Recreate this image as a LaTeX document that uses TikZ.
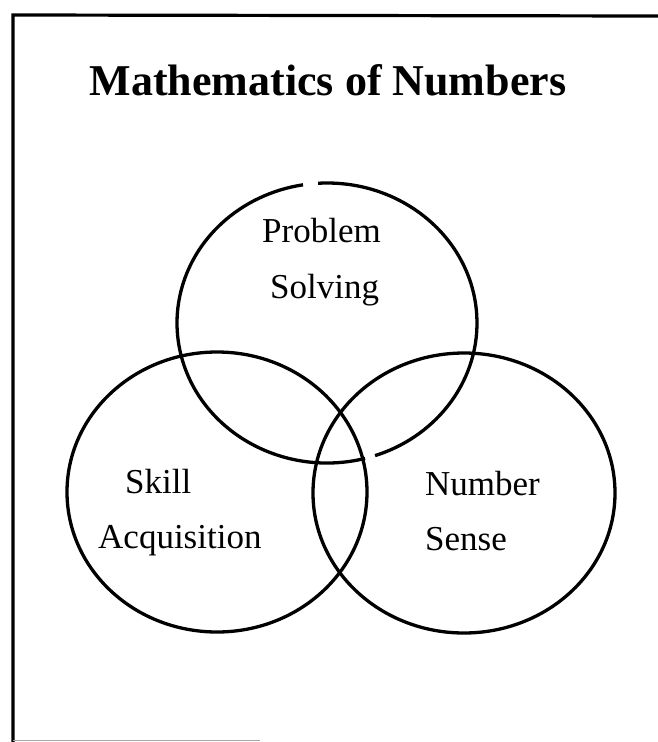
\documentclass[tikz,border=0pt]{standalone}
\usepackage{fontspec}
\setmainfont{Liberation Serif}
\begin{document}
\begin{tikzpicture}[x=1pt,y=-1pt,
  ring/.style={line width=3.3pt, black},
  framestyle/.style={line width=3.2pt, black},
  lbl/.style={font=\fontsize{35}{40}\selectfont, inner sep=0pt, anchor=base west},
  ttl/.style={font=\bfseries\fontsize{44}{50}\selectfont, inner sep=0pt, anchor=base}]
\useasboundingbox (0,0) rectangle (658,742);
% frame
\coordinate (fbl) at (13,742);
\coordinate (ftl) at (13,15);
\coordinate (ftr) at (658,16);
\coordinate (fbr) at (260,740);
\draw[framestyle] (fbl) -- (ftl) -- (ftr);
\draw[line width=1pt, black!35] (13,740) -- (fbr);
% title
\node[ttl] (title) at (328,95) {Mathematics of Numbers};
% circle centres
\coordinate (cP) at (327,323);
\coordinate (cS) at (217,492);
\coordinate (cN) at (464,493);
% top circle with small gaps as in the scan
\draw[ring] (cP) ++(266.6:150 and 140) arc[start angle=266.6, end angle=431.3, x radius=150, y radius=140];
\draw[ring] (cP) ++(75.3:150 and 140) arc[start angle=75.3, end angle=260.8, x radius=150, y radius=140];
% left and right circles
\draw[ring] (cS) ellipse[x radius=150, y radius=140];
\draw[ring] (cN) ellipse[x radius=151, y radius=140];
% labels
\node[lbl] (p1) at (262,242) {Problem};
\node[lbl] (p2) at (270,298) {Solving};
\node[lbl] (s1) at (125,493) {Skill};
\node[lbl] (s2) at (98,548) {Acquisition};
\node[lbl] (n1) at (425,495) {Number};
\node[lbl] (n2) at (425,550) {Sense};
\end{tikzpicture}
\end{document}
